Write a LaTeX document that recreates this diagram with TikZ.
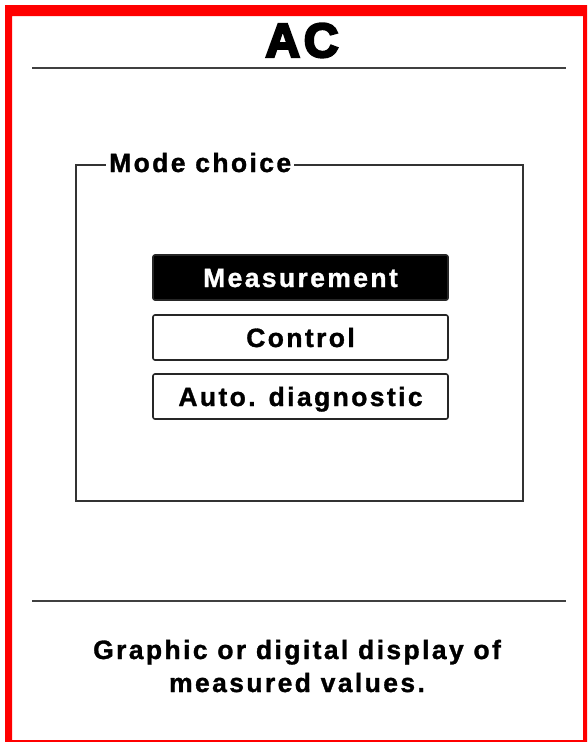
\documentclass[tikz,border=0pt]{standalone}
\usepackage{fontspec}
\setmainfont{Liberation Sans}
\newfontfamily\uifont{Liberation Sans Bold}[LetterSpace=9,FakeBold=1.2]
\newfontfamily\titlefont{Liberation Sans Bold}[FakeBold=5,LetterSpace=8]
\tikzset{
  rule/.style={line width=2pt, black!75},
  uitext/.style={font=\uifont\fontsize{26.5}{30}\selectfont, inner sep=0pt},
  btn/.style={uitext, draw=black!85, line width=1.6pt, rounded corners=2pt,
    minimum width=295pt, text height=32pt, text depth=13pt, inner ysep=0pt, anchor=base},
}
\begin{document}
\begin{tikzpicture}[x=1pt,y=-1pt]
\useasboundingbox (0,0) rectangle (587,742);
\fill[red, even odd rule] (5,5) rectangle (587,742) (12,16) rectangle (583,740);
\node[anchor=base, inner sep=0pt, font=\titlefont\fontsize{48}{48}\selectfont] (title) at (302,57) {AC};
\coordinate (t1) at (32,68);
\coordinate (t2) at (566,68);
\draw[rule] (t1) -- (t2);
\draw[line width=1.8pt, black!80] (76,165) rectangle (523,501);
\node[uitext, anchor=base west, fill=white, inner xsep=3pt, inner ysep=2pt] (mode) at (106,172) {Mode choice};
\node[btn, fill=black, text=white] (meas) at (300.5,287) {Measurement};
\node[btn, fill=white] (ctrl) at (300.5,347) {Control};
\node[btn, fill=white] (auto) at (300.5,406) {Auto. diagnostic};
\coordinate (b1) at (32,601);
\coordinate (b2) at (566,601);
\draw[rule] (b1) -- (b2);
\node[uitext, anchor=base] (desc1) at (297,659) {Graphic or digital display of};
\node[uitext, anchor=base] (desc2) at (297,692) {measured values.};
\end{tikzpicture}
\end{document}
